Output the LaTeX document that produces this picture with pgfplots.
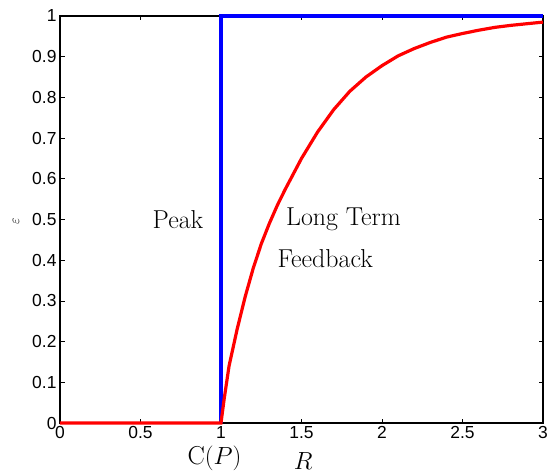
\documentclass[border=0pt]{standalone}
\usepackage{fontspec}
\usepackage{pgfplots}
\pgfplotsset{compat=1.18}
\newfontfamily\ticksf{Liberation Sans}
\definecolor{pblue}{RGB}{0,0,255}
\definecolor{pred}{RGB}{255,0,0}
\begin{document}
\begin{tikzpicture}
\begin{axis}[
  scale only axis, width=483bp, height=407bp,
  xmin=0, xmax=3, ymin=0, ymax=1,
  xtick={0,0.5,1,1.5,2,2.5,3},
  ytick={0,0.1,0.2,0.3,0.4,0.5,0.6,0.7,0.8,0.9,1},
  tick align=inside, major tick length=4.5bp,
  axis line style={line width=1.1pt},
  tick style={black, line width=0.8pt},
  ticklabel style={font=\ticksf\fontsize{17.5}{20}\selectfont},
  /pgf/number format/assume math mode=true,
  clip=false,
]
\addplot[pblue, line width=3.1pt] coordinates {(1,0) (1,1) (3,1)};
\addplot[pred, line width=3.2pt] coordinates {
  (0,0) (1,0) (1.02,0.06) (1.05,0.14) (1.1,0.23) (1.15,0.31) (1.2,0.38)
  (1.25,0.44) (1.3,0.49) (1.35,0.535) (1.4,0.575) (1.5,0.65) (1.6,0.715)
  (1.7,0.77) (1.8,0.815) (1.9,0.85) (2,0.878) (2.1,0.902) (2.2,0.92)
  (2.3,0.935) (2.4,0.948) (2.5,0.957) (2.6,0.965) (2.7,0.972) (2.8,0.977)
  (2.9,0.981) (3,0.985)};
\node[anchor=base, font=\fontsize{26}{30}\selectfont] at (axis cs:0.733,0.478) {Peak};
\node[anchor=base, font=\fontsize{26}{30}\selectfont] at (axis cs:1.761,0.485) {Long Term};
\node[anchor=base, font=\fontsize{26}{30}\selectfont] at (axis cs:1.648,0.381) {Feedback};
\node[anchor=base, font=\fontsize{26}{30}\selectfont] at ([yshift=-41bp]axis cs:0.96,0) {C$(P)$};
\node[anchor=base, font=\fontsize{26}{30}\selectfont, inner sep=1bp] at ([yshift=-46bp]axis cs:1.51,0) {$R$};
\node[rotate=90, font=\fontsize{14}{16}\selectfont] at ([xshift=-44bp]axis cs:0,0.497) {$\varepsilon$};
\end{axis}
\pgfresetboundingbox
\path ([xshift=-60bp,yshift=-51bp]current axis.south west) rectangle ([xshift=4bp,yshift=16bp]current axis.north east);
\end{tikzpicture}
\end{document}
